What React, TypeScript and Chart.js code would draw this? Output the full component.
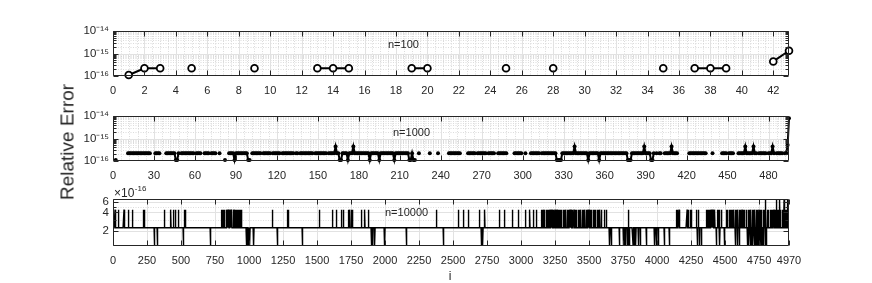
import React, { useEffect, useRef } from "react";
import { Chart, registerables } from "chart.js";

Chart.register(...registerables);

// ---------------- data ----------------
const LEVEL_1 = 1.11e-16;
const LEVEL_2 = 2.22e-16;
const LEVEL_4 = 4.44e-16;
const LEVEL_6 = 6.66e-16;

// n = 100 : indices with non-zero relative error and their values
const n100Index = [1, 2, 3, 5, 9, 13, 14, 15, 19, 20, 25, 28, 35, 37, 38, 39, 42, 43];
const n100Error = [
  1.11e-16, 2.22e-16, 2.22e-16, 2.22e-16, 2.22e-16, 2.22e-16, 2.22e-16, 2.22e-16, 2.22e-16,
  2.22e-16, 2.22e-16, 2.22e-16, 2.22e-16, 2.22e-16, 2.22e-16, 2.22e-16, 4.44e-16, 1.33e-15,
];
const n100XMax = 43;
const n100XTicks = [0, 2, 4, 6, 8, 10, 12, 14, 16, 18, 20, 22, 24, 26, 28, 30, 32, 34, 36, 38, 40, 42];

// n = 1000 : runs [first i, last i, level code] (1 -> eps/2, 2 -> eps, 4 -> 2 eps); other i are exact (0)
const n1000Runs: [number, number, number][] = [
  [2, 2, 1], [11, 27, 2], [31, 34, 2], [39, 45, 2], [46, 47, 1], [48, 48, 2], [50, 59, 2],
  [61, 64, 2], [67, 70, 2], [72, 75, 2], [78, 78, 2], [82, 82, 1], [85, 88, 2], [89, 89, 1],
  [90, 94, 2], [95, 98, 2], [99, 100, 1], [102, 108, 2], [110, 115, 2], [117, 122, 2],
  [124, 132, 2], [134, 135, 2], [137, 146, 2], [148, 156, 2], [158, 162, 2], [163, 163, 4],
  [164, 165, 2], [166, 167, 1], [168, 171, 2], [172, 172, 1], [173, 175, 2], [176, 176, 4],
  [177, 187, 2], [188, 188, 1], [189, 194, 2], [195, 195, 1], [196, 205, 2], [206, 206, 1],
  [207, 216, 2], [217, 218, 1], [219, 219, 2], [220, 221, 1], [224, 224, 2], [232, 232, 2],
  [238, 238, 2], [246, 254, 2], [260, 265, 2], [267, 273, 2], [275, 279, 2], [282, 288, 2],
  [294, 299, 2], [302, 302, 2], [306, 312, 2], [314, 324, 2], [325, 328, 1], [329, 331, 2],
  [332, 337, 2], [338, 338, 4], [339, 341, 2], [342, 347, 2], [348, 348, 1], [349, 355, 2],
  [356, 356, 1], [357, 363, 2], [364, 376, 2], [377, 379, 1], [380, 388, 2], [389, 389, 4],
  [390, 393, 2], [394, 395, 1], [396, 396, 2], [398, 398, 2], [400, 401, 2], [404, 408, 2],
  [409, 409, 4], [410, 413, 2], [422, 434, 2], [439, 439, 2], [446, 449, 2], [451, 454, 2],
  [458, 462, 2], [463, 463, 4], [464, 468, 2], [469, 469, 4], [470, 471, 2], [473, 478, 2],
  [480, 482, 2], [483, 483, 4], [484, 484, 2], [486, 490, 2], [492, 493, 2],
];
const n1000TailIndex = [494, 495];
const n1000TailError = [5.1e-16, 7.9e-15];
const n1000XMax = 495;
const n1000XTicks = [0, 30, 60, 90, 120, 150, 180, 210, 240, 270, 300, 330, 360, 390, 420, 450, 480];

// n = 10000 : baseline eps, with listed indices at 2 eps (up), eps/2 (down), 3 eps (top)
const n10000Length = 4970;
const n10000Up = [
  15, 20, 39, 81, 113, 145, 225, 230, 377, 426, 443, 461, 480, 527, 532,
  800, 806, 812, 820, 832, 838, 846, 852, 860, 868, 874, 884, 890, 900, 906, 914, 922, 930, 938, 946,
  1171, 1284, 1290, 1517, 1615, 1644, 1681, 1693, 1730, 1742, 1754, 1762, 1828, 1852, 1877,
  2379, 2538, 2575, 2612, 2697, 2734, 2844, 2881, 2938, 2979, 3033, 3065, 3090, 3114,
  3151, 3160, 3168, 3175, 3185, 3193, 3200, 3212, 3220, 3228, 3240, 3250, 3258, 3265, 3275,
  3285, 3292, 3300, 3310, 3322, 3330, 3340, 3350, 3360, 3368, 3378, 3390, 3400, 3410, 3420,
  3428, 3440, 3450, 3460, 3470, 3480, 3492, 3500, 3510, 3520, 3530, 3540, 3550, 3560, 3570,
  3580, 3592, 3616, 3628, 3788,
  4143, 4150, 4162, 4221, 4230, 4245, 4253, 4290, 4307,
  4364, 4372, 4380, 4388, 4396, 4404, 4412, 4420, 4425, 4442, 4450, 4460, 4474,
  4511, 4520, 4530, 4538, 4546, 4555, 4565, 4575, 4585, 4595, 4605, 4615, 4625, 4635, 4645, 4658,
  4670, 4680, 4690, 4700, 4710, 4720, 4730, 4740, 4750, 4760, 4770, 4780, 4790, 4800, 4810, 4817,
  4834, 4842, 4850, 4860, 4870, 4885, 4895, 4910, 4920, 4930, 4945, 4952,
];
const n10000Down = [
  304, 326, 517, 718, 982, 988, 994, 1000, 1007, 1036, 1210, 1391, 1901, 1910, 1926, 1999,
  2159, 2428, 2710, 2720, 3653, 3665, 3726, 3751, 3760, 3770, 3780, 3790, 3800, 3824, 3835,
  3845, 3861, 3878, 3923, 3984, 3995, 4008, 4057, 4094, 4295, 4310, 4327, 4437, 4462, 4498,
  4579, 4590, 4608, 4663, 4675, 4685, 4695, 4705, 4715, 4725, 4735, 4745, 4755, 4765, 4775,
  4785, 4795, 4805,
];
const n10000Top = [4797, 4878, 4903, 4934, 4959];
const n10000XTicks = [
  0, 250, 500, 750, 1000, 1250, 1500, 1750, 2000, 2250, 2500, 2750, 3000, 3250, 3500, 3750,
  4000, 4250, 4500, 4750, 4970,
];

const decadeTicks = [1e-16, 1e-15, 1e-14];
const decadeLabels = ["10\u207B\u00B9\u2076", "10\u207B\u00B9\u2075", "10\u207B\u00B9\u2074"];
const decadeMinor = [2, 3, 4, 5, 6, 7, 8, 9].flatMap((m) => [m * 1e-16, m * 1e-15]);
const n10000YTicks = [2e-16, 4e-16, 6e-16];
const n10000YLabels = ["2", "4", "6"];
const n10000YMinor = [3e-16, 5e-16];

// ---------------- build series ----------------
const levelOf = (c: number) => (c === 1 ? LEVEL_1 : c === 2 ? LEVEL_2 : c === 4 ? LEVEL_4 : null);

const n100Data = Array.from({ length: n100XMax }, (_, k) => {
  const i = k + 1;
  const j = n100Index.indexOf(i);
  return { x: i, y: j >= 0 ? n100Error[j] : null };
});

const n1000Values: (number | null)[] = Array.from({ length: n1000XMax + 1 }, () => null);
n1000Runs.forEach(([a, b, c]) => {
  for (let i = a; i <= b; i++) n1000Values[i] = levelOf(c);
});
n1000TailIndex.forEach((i, k) => (n1000Values[i] = n1000TailError[k]));
const n1000Data = n1000Values.slice(1).map((y, k) => ({ x: k + 1, y }));

const n10000Values: number[] = Array.from({ length: n10000Length + 1 }, () => LEVEL_2);
n10000Up.forEach((i) => (n10000Values[i] = LEVEL_4));
n10000Down.forEach((i) => (n10000Values[i] = LEVEL_1));
n10000Top.forEach((i) => (n10000Values[i] = LEVEL_6));
const n10000Data = n10000Values.slice(1).map((y, k) => ({ x: k + 1, y }));

// ---------------- layout ----------------
const W = 872;
const LEFT = 113;
const RIGHT = 789;
const INK = "#262626";
const FONT = "'Liberation Sans', Arial, Helvetica, sans-serif";

type Panel = {
  key: string;
  top: number;
  height: number;
  plotTop: number;
  plotBottom: number;
  xMax: number;
  xTicks: number[];
  xMinorStep: number;
  yMin: number;
  yMax: number;
  yTicks: number[];
  yLabels: string[];
  yMinor: number[];
  data: { x: number; y: number | null }[];
  kind: "circle" | "dot" | "line";
  note: string;
  noteX: number;
  noteY: number;
  multiplier: boolean;
};

const panels: Panel[] = [
  {
    key: "p100", top: 0, height: 100, plotTop: 31, plotBottom: 76,
    xMax: n100XMax, xTicks: n100XTicks, xMinorStep: 0.5,
    yMin: 1e-16, yMax: 1e-14, yTicks: decadeTicks, yLabels: decadeLabels, yMinor: decadeMinor,
    data: n100Data, kind: "circle", note: "n=100", noteX: 388, noteY: 45, multiplier: false,
  },
  {
    key: "p1000", top: 100, height: 85, plotTop: 16, plotBottom: 61,
    xMax: n1000XMax, xTicks: n1000XTicks, xMinorStep: 6,
    yMin: 1e-16, yMax: 1e-14, yTicks: decadeTicks, yLabels: decadeLabels, yMinor: decadeMinor,
    data: n1000Data, kind: "dot", note: "n=1000", noteX: 393, noteY: 33, multiplier: false,
  },
  {
    key: "p10000", top: 185, height: 98, plotTop: 14, plotBottom: 61,
    xMax: n10000Length, xTicks: n10000XTicks, xMinorStep: 0,
    yMin: LEVEL_1, yMax: LEVEL_6, yTicks: n10000YTicks, yLabels: n10000YLabels, yMinor: n10000YMinor,
    data: n10000Data, kind: "line", note: "n=10000", noteX: 385, noteY: 28, multiplier: true,
  },
];

function framePlugin(p: Panel) {
  return {
    id: "frame_" + p.key,
    beforeDatasetsDraw(chart: any) {
      const { ctx, chartArea: a, scales } = chart;
      const x = scales.x;
      const y = scales.y;
      ctx.save();
      ctx.beginPath();
      ctx.rect(a.left, a.top, a.right - a.left, a.bottom - a.top);
      ctx.clip();
      ctx.strokeStyle = "#cdcdcd";
      ctx.lineWidth = 0.7;
      ctx.setLineDash([1, 1.5]);
      if (p.xMinorStep > 0) {
        for (let v = p.xMinorStep; v < p.xMax; v += p.xMinorStep) {
          const px = Math.round(x.getPixelForValue(v)) + 0.5;
          ctx.beginPath();
          ctx.moveTo(px, a.top);
          ctx.lineTo(px, a.bottom);
          ctx.stroke();
        }
      }
      p.yMinor.forEach((v) => {
        const py = Math.round(y.getPixelForValue(v)) + 0.5;
        ctx.beginPath();
        ctx.moveTo(a.left, py);
        ctx.lineTo(a.right, py);
        ctx.stroke();
      });
      ctx.setLineDash([]);
      ctx.strokeStyle = "#e2e2e2";
      ctx.lineWidth = 1;
      p.xTicks.forEach((v) => {
        const px = Math.round(x.getPixelForValue(v)) + 0.5;
        ctx.beginPath();
        ctx.moveTo(px, a.top);
        ctx.lineTo(px, a.bottom);
        ctx.stroke();
      });
      p.yTicks.forEach((v) => {
        const py = Math.round(y.getPixelForValue(v)) + 0.5;
        ctx.beginPath();
        ctx.moveTo(a.left, py);
        ctx.lineTo(a.right, py);
        ctx.stroke();
      });
      ctx.restore();
    },
    afterDatasetsDraw(chart: any) {
      const { ctx, chartArea: a, scales } = chart;
      const x = scales.x;
      const y = scales.y;
      ctx.save();
      ctx.strokeStyle = INK;
      ctx.lineWidth = 1;
      const l = Math.round(a.left) + 0.5;
      const r = Math.round(a.right) - 0.5;
      const t = Math.round(a.top) + 0.5;
      const b = Math.round(a.bottom) - 0.5;
      ctx.beginPath();
      ctx.rect(l, t, r - l, b - t);
      ctx.stroke();
      ctx.beginPath();
      p.xTicks.forEach((v) => {
        const px = Math.round(x.getPixelForValue(v)) + 0.5;
        ctx.moveTo(px, b);
        ctx.lineTo(px, b - 5);
        ctx.moveTo(px, t);
        ctx.lineTo(px, t + 5);
      });
      p.yTicks.forEach((v) => {
        const py = Math.round(y.getPixelForValue(v)) + 0.5;
        ctx.moveTo(l, py);
        ctx.lineTo(l + 5, py);
        ctx.moveTo(r, py);
        ctx.lineTo(r - 5, py);
      });
      p.yMinor.forEach((v) => {
        const py = Math.round(y.getPixelForValue(v)) + 0.5;
        ctx.moveTo(l, py);
        ctx.lineTo(l + 3, py);
        ctx.moveTo(r, py);
        ctx.lineTo(r - 3, py);
      });
      ctx.stroke();
      ctx.fillStyle = INK;
      ctx.font = `11px ${FONT}`;
      ctx.textBaseline = "middle";
      ctx.textAlign = "left";
      ctx.fillText(p.note, p.noteX, p.noteY);
      if (p.multiplier) {
        ctx.textBaseline = "alphabetic";
        ctx.font = `12px ${FONT}`;
        ctx.fillText("\u00D710", 114, 12);
        const w = ctx.measureText("\u00D710").width;
        ctx.font = `8px ${FONT}`;
        ctx.fillText("-16", 114 + w + 0.5, 6);
      }
      ctx.restore();
    },
  };
}

function datasetFor(p: Panel) {
  const base: any = {
    data: p.data,
    borderColor: "#000",
    spanGaps: false,
    clip: false,
    tension: 0,
  };
  if (p.kind === "circle") {
    return { ...base, borderWidth: 2, pointRadius: 3.4, pointBorderWidth: 1.8, pointBackgroundColor: "#fff", pointBorderColor: "#000" };
  }
  if (p.kind === "dot") {
    return { ...base, borderWidth: 2, pointRadius: 2, pointBorderWidth: 0, pointBackgroundColor: "#000" };
  }
  return { ...base, borderWidth: 1.4, pointRadius: 0, clip: 0 };
}

function PanelChart({ p }: { p: Panel }) {
  const ref = useRef<HTMLCanvasElement>(null);
  useEffect(() => {
    const canvas = ref.current;
    if (!canvas) return;
    const chart = new Chart(canvas, {
      type: "line",
      data: { datasets: [datasetFor(p)] },
      options: {
        animation: false,
        responsive: false,
        devicePixelRatio: 1,
        layout: { padding: { left: 0, right: W - RIGHT, top: p.plotTop, bottom: 0 } },
        plugins: { legend: { display: false }, tooltip: { enabled: false } },
        scales: {
          x: {
            type: "linear",
            min: 0,
            max: p.xMax,
            grid: { display: false, drawTicks: false },
            border: { display: false },
            afterBuildTicks: (s: any) => {
              s.ticks = p.xTicks.map((v) => ({ value: v }));
            },
            afterFit: (s: any) => {
              s.height = p.height - p.plotBottom;
            },
            ticks: {
              autoSkip: false,
              maxRotation: 0,
              padding: 8,
              color: INK,
              font: { family: FONT, size: 11 },
              callback: (v: any) => String(v),
            },
          },
          y: {
            type: "logarithmic",
            min: p.yMin,
            max: p.yMax,
            grid: { display: false, drawTicks: false },
            border: { display: false },
            afterBuildTicks: (s: any) => {
              s.ticks = p.yTicks.map((v) => ({ value: v }));
            },
            afterFit: (s: any) => {
              s.width = LEFT;
            },
            ticks: {
              autoSkip: false,
              padding: 4,
              color: INK,
              font: { family: FONT, size: 11.5 },
              callback: (v: any) => {
                const k = p.yTicks.findIndex((t) => Math.abs(t - v) / t < 1e-6);
                return k >= 0 ? p.yLabels[k] : "";
              },
            },
          },
        },
      },
      plugins: [framePlugin(p)],
    } as any);
    return () => chart.destroy();
  }, [p]);
  return (
    <canvas
      ref={ref}
      width={W}
      height={p.height}
      style={{ position: "absolute", left: 0, top: p.top, width: W, height: p.height }}
    />
  );
}

export default function App() {
  return (
    <div style={{ position: "absolute", left: 0, top: 0, width: W, height: 283, background: "#fff", overflow: "hidden" }}>
      {panels.map((p) => (
        <PanelChart key={p.key} p={p} />
      ))}
      <div
        style={{
          position: "absolute",
          left: 67,
          top: 142,
          transform: "translate(-50%, -50%) rotate(-90deg)",
          whiteSpace: "nowrap",
          fontFamily: FONT,
          fontSize: 19,
          color: INK,
          lineHeight: 1,
        }}
      >
        Relative Error
      </div>
      <div
        style={{
          position: "absolute",
          left: 450,
          top: 276,
          transform: "translate(-50%, -50%)",
          fontFamily: FONT,
          fontSize: 12,
          color: INK,
          lineHeight: 1,
        }}
      >
        i
      </div>
    </div>
  );
}
